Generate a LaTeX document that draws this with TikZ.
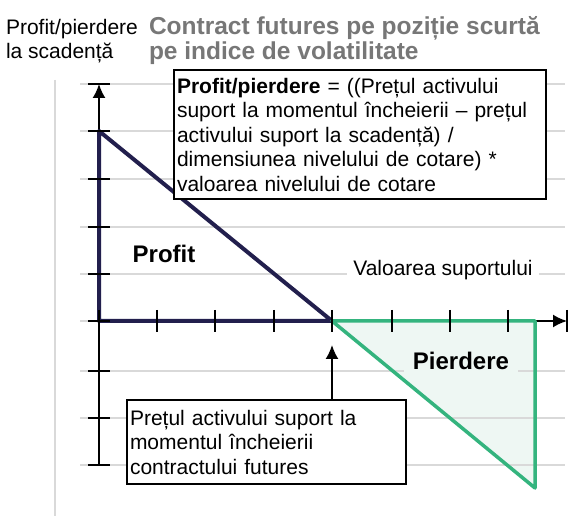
\documentclass[tikz,border=0pt]{standalone}
\usepackage{fontspec}
\setmainfont{Liberation Sans}
\usepackage{xcolor}
\usepackage{tikz}
\usetikzlibrary{arrows.meta}
\usetikzlibrary{positioning}

\definecolor{profitnavy}{HTML}{221F4D}
\definecolor{lossgreen}{HTML}{34B47E}
\definecolor{lossfill}{HTML}{EEF7F3}
\definecolor{gridgray}{HTML}{D9D9D9}
\definecolor{titlegray}{HTML}{777777}

\begin{document}
\begin{tikzpicture}[
	x=1pt, y=-1pt,
	line width=2pt,
	font=\fontsize{21}{24.5}\selectfont
]
\tikzset{
    gridline/.style = {draw=gridgray, line width=1.6pt},
    axisline/.style = {draw=black, line width=1.8pt},
    tickline/.style = {draw=black, line width=2pt},
    profitline/.style = {draw=profitnavy, line width=4pt, line join=round},
    lossline/.style = {draw=lossgreen, line width=3.5pt, line join=round},
    textbox/.style = {rectangle, draw=black, fill=white, line width=2pt, align=left, inner xsep=3pt, inner ysep=0pt, anchor=north west},
    biglabel/.style = {font=\fontsize{24}{26}\selectfont\bfseries},
    axistip/.style = {-{Latex[length=14pt,width=13pt]}},
}
\useasboundingbox (0,0) rectangle (574,516);

\coordinate (origin) at (99,321);
\coordinate (ytop) at (99,84);
\coordinate (ybot) at (99,465);
\coordinate (xend) at (567,321);
\coordinate (peak) at (99,131);
\coordinate (strike) at (332,321);
\coordinate (losscorner) at (535,321);
\coordinate (lossbottom) at (535,488);
\coordinate (arrowtip) at (332,345);

\fill[lossfill] (strike) -- (losscorner) -- (lossbottom) -- cycle;
\draw[gridline] (55,80) -- (55,516);
\foreach \y in {84,131,179,227,274,321,371,418,465}
  \draw[gridline] (80,\y) -- (565,\y);

\node[anchor=north west, inner sep=0pt, align=left, font=\fontsize{21}{24.5}\selectfont] (ylabel) at (5,18) {Profit/pierdere\\la scadență};
\node[anchor=north west, inner sep=0pt, align=left, text=titlegray, font=\fontsize{24.5}{25}\selectfont\bfseries] (title) at (148,15) {Contract futures pe poziție scurtă\\pe indice de volatilitate};

\draw[axisline, axistip] (ybot) -- (ytop);
\draw[axisline, axistip] (origin) -- (xend);

\draw[profitline] (peak) -- (origin) -- (strike) -- cycle;
\draw[lossline] (strike) -- (losscorner) -- (lossbottom) -- cycle;

\foreach \y in {84,131,179,227,274,321,371,418,465}
  \draw[tickline] (88,\y) -- (110,\y);
\foreach \x in {99,157,215,274,332,392,450,508,567}
  \draw[tickline] (\x,310) -- (\x,332);

\node[textbox, text width=366pt, minimum height=129pt] (formula) at (173,69) {{\bfseries Profit/pierdere} = ((Prețul activului\\suport la momentul încheierii – prețul\\activului suport la scadență) /\\dimensiunea nivelului de cotare) *\\valoarea nivelului de cotare};
\node[textbox, text width=273pt, minimum height=84pt] (strikebox) at (126,399) {Prețul activului suport la\\momentul încheierii\\contractului futures};

\node[biglabel] (profitlbl) at (164,254) {Profit};
\node[fill=white, inner xsep=6pt, inner ysep=2pt] (suportlbl) at (443,270) {Valoarea suportului};
\node[biglabel, fill=lossfill, inner xsep=9pt, inner ysep=3pt] (losslbl) at (461,361) {Pierdere};

\draw[axisline, axistip] (strikebox.north -| arrowtip) -- (arrowtip);
\end{tikzpicture}
\end{document}
